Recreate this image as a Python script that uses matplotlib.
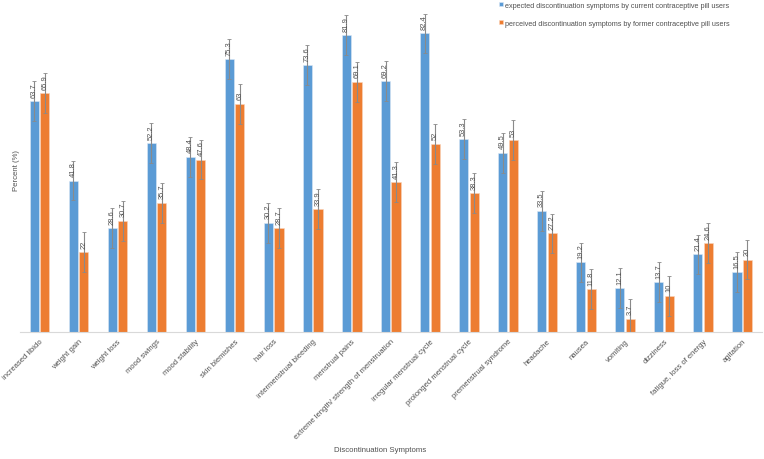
import matplotlib
matplotlib.use("Agg")
import matplotlib.pyplot as plt
import numpy as np

categories = ["increased libido", "weight gain", "weight loss", "mood swings", "mood stability",
              "skin blemishes", "hair loss", "intermenstrual bleeding", "menstrual pains",
              "extreme length/ strength of menstruation", "irregular menstrual cycle",
              "prolonged menstrual cycle", "premenstrual syndrome", "headache", "nausea",
              "vomiting", "dizziness", "fatigue, loss of energy", "agitation"]
current = [63.7, 41.8, 28.6, 52.2, 48.4, 75.3, 30.2, 73.6, 81.9, 69.2, 82.4, 53.3, 49.5,
           33.5, 19.2, 12.1, 13.7, 21.4, 16.5]
former = [65.9, 22, 30.7, 35.7, 47.6, 63, 28.7, 33.9, 69.1, 41.3, 52, 38.3, 53,
          27.2, 11.8, 3.7, 10, 24.6, 20]
err_current = [5.5] * len(categories)
err_former = [5.5] * len(categories)

series_names = ["expected discontinuation symptoms by current contraceptive pill users",
                "perceived discontinuation symptoms by former contraceptive pill users"]

plt.rcParams['font.family'] = ['Liberation Sans', 'DejaVu Sans']

fig = plt.figure(figsize=(7.64, 4.6), dpi=100)
ax = fig.add_axes([0.026, 0.276, 0.971, 0.709])

x = np.arange(len(categories))
w = 0.235
off = 0.135
ekw = dict(ecolor='#8a8a8a', elinewidth=0.8, capsize=1.5, capthick=0.6)
b1 = ax.bar(x - off, current, w, color='#5B9BD5', edgecolor='#dbe8f5', linewidth=0.4,
            yerr=err_current, error_kw=ekw, label=series_names[0])
b2 = ax.bar(x + off, former, w, color='#ED7D31', edgecolor='#f9d5bd', linewidth=0.4,
            yerr=err_former, error_kw=ekw, label=series_names[1])

for xs, vals in ((x - off, current), (x + off, former)):
    for xi, v in zip(xs, vals):
        ax.text(xi, v + 1.2, f"{v:g}", rotation=90, ha='center', va='bottom',
                fontsize=5.4, color='#505050')

ax.set_xlim(-0.5, len(categories) - 0.5)
ax.set_ylim(0, 90)
ax.set_yticks([])
ax.set_xticks(x)
ax.set_xticklabels(categories, rotation=45, ha='right', rotation_mode='anchor',
                   fontsize=5.5, color='#505050')
ax.tick_params(axis='x', length=0, pad=4)
for s in ['top', 'right', 'left']:
    ax.spines[s].set_visible(False)
ax.spines['bottom'].set_color('#d9d9d9')
ax.spines['bottom'].set_linewidth(0.8)

fig.text(0.022, 0.63, "Percent (%)", rotation=90, ha='center', va='center',
         fontsize=5.6, color='#505050')
fig.text(0.497, 0.02, "Discontinuation Symptoms", ha='center', va='center',
         fontsize=5.6, color='#505050')

leg = fig.legend(handles=[b1, b2], labels=series_names, loc='upper left',
                 bbox_to_anchor=(0.645, 1.008), frameon=False, fontsize=5.25,
                 handlelength=0.5, handleheight=0.5, handletextpad=0.3,
                 labelspacing=1.5, labelcolor='#505050')

fig.savefig("out.png", dpi=100)
